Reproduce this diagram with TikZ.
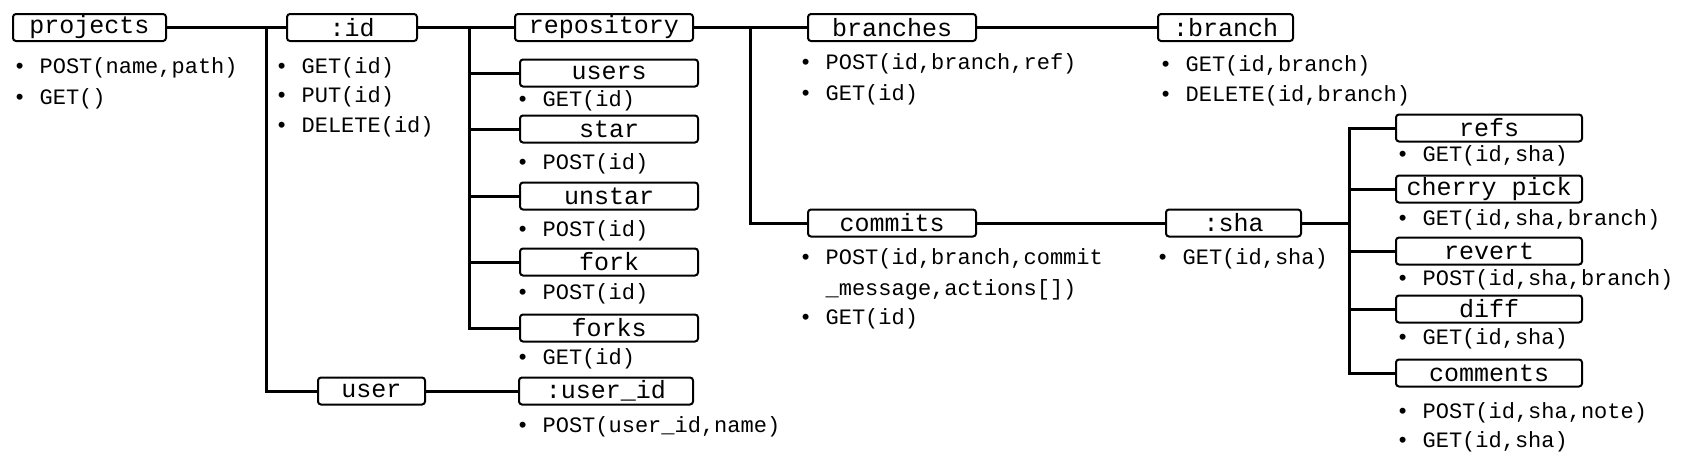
\documentclass[tikz,border=0pt]{standalone}
\usepackage{fontspec}
\setmonofont{Liberation Mono}
\begin{document}
\begin{tikzpicture}[x=1pt,y=-1pt,
    box/.style={draw,line width=2pt,rounded corners=3pt,minimum height=27pt,inner sep=0pt,font=\ttfamily\fontsize{25}{25}\selectfont},
    item/.style={anchor=west,inner sep=0pt,font=\ttfamily\fontsize{22}{22}\selectfont},
    link/.style={line width=3pt}]
    \useasboundingbox (0,0) rectangle (1705,466);

    % Boxes
    \node [box,minimum width=153pt] (projects) at (89.5,27.5) {projects};
    \node [box,minimum width=130pt] (id) at (352,27.5) {:id};
    \node [box,minimum width=178pt] (repository) at (604,27.5) {repository};
    \node [box,minimum width=178pt] (users) at (609,73) {users};
    \node [box,minimum width=178pt] (star) at (609,129) {star};
    \node [box,minimum width=178pt] (unstar) at (609,196) {unstar};
    \node [box,minimum width=178pt] (fork) at (609,262) {fork};
    \node [box,minimum width=178pt] (forks) at (609,328) {forks};
    \node [box,minimum width=107pt] (user) at (371.5,391) {user};
    \node [box,minimum width=174pt] (userid) at (606,391) {:user\_id};
    \node [box,minimum width=168pt] (branches) at (892,27.5) {branches};
    \node [box,minimum width=135pt] (branch) at (1225.5,27.5) {:branch};
    \node [box,minimum width=168pt] (commits) at (892,223) {commits};
    \node [box,minimum width=135pt] (sha) at (1233.5,223) {:sha};
    \node [box,minimum width=186pt] (refs) at (1489,128) {refs};
    \node [box,minimum width=186pt] (cherry) at (1489,189) {cherry pick};
    \node [box,minimum width=186pt] (revert) at (1489,251) {revert};
    \node [box,minimum width=186pt] (diff) at (1489,309) {diff};
    \node [box,minimum width=186pt] (comments) at (1489,373) {comments};

    % Trunk points
    \coordinate (t1) at (266,27.5);
    \coordinate (t2) at (469,27.5);
    \coordinate (t3) at (750,27.5);
    \coordinate (t4) at (1349,223);

    % Connectors
    \draw [link] (projects.east) -- (id.west);
    \draw [link] (id.east) -- (repository.west);
    \draw [link] (repository.east) -- (branches.west);
    \draw [link] (branches.east) -- (branch.west);
    \draw [link] (commits.east) -- (sha.west);
    \draw [link] (user.east) -- (userid.west);
    \draw [link] (sha.east) -- (t4);
    \draw [link] (t1) |- (user.west);
    \draw [link] (t3) |- (commits.west);
    \foreach \n in {users,star,unstar,fork,forks}
        \draw [link] (t2) |- (\n.west);
    \foreach \n in {refs,cherry,revert,diff,comments}
        \draw [link] (t4) |- (\n.west);

    % Methods
    \node [item] (p1) at (13,68) {• POST(name,path)};
    \node [item] (p2) at (13,99) {• GET()};
    \node [item] (i1) at (275,68) {• GET(id)};
    \node [item] (i2) at (275,97) {• PUT(id)};
    \node [item] (i3) at (275,127) {• DELETE(id)};
    \node [item] (u1) at (516,101) {• GET(id)};
    \node [item] (s1) at (516,164) {• POST(id)};
    \node [item] (us1) at (516,231) {• POST(id)};
    \node [item] (f1) at (516,294) {• POST(id)};
    \node [item] (fs1) at (516,359) {• GET(id)};
    \node [item] (ui1) at (516,427) {• POST(user\_id,name)};
    \node [item] (b1) at (799,64) {• POST(id,branch,ref)};
    \node [item] (b2) at (799,95) {• GET(id)};
    \node [item] (c1) at (799,259) {• POST(id,branch,commit};
    \node [item] (c2) at (799,290) {\phantom{•} \_message,actions[])};
    \node [item] (c3) at (799,319) {• GET(id)};
    \node [item] (br1) at (1159,66) {• GET(id,branch)};
    \node [item] (br2) at (1159,96) {• DELETE(id,branch)};
    \node [item] (sh1) at (1156,259) {• GET(id,sha)};
    \node [item] (r1) at (1396,156) {• GET(id,sha)};
    \node [item] (ch1) at (1396,220) {• GET(id,sha,branch)};
    \node [item] (rv1) at (1396,280) {• POST(id,sha,branch)};
    \node [item] (d1) at (1396,339) {• GET(id,sha)};
    \node [item] (cm1) at (1396,413) {• POST(id,sha,note)};
    \node [item] (cm2) at (1396,442) {• GET(id,sha)};
\end{tikzpicture}
\end{document}
